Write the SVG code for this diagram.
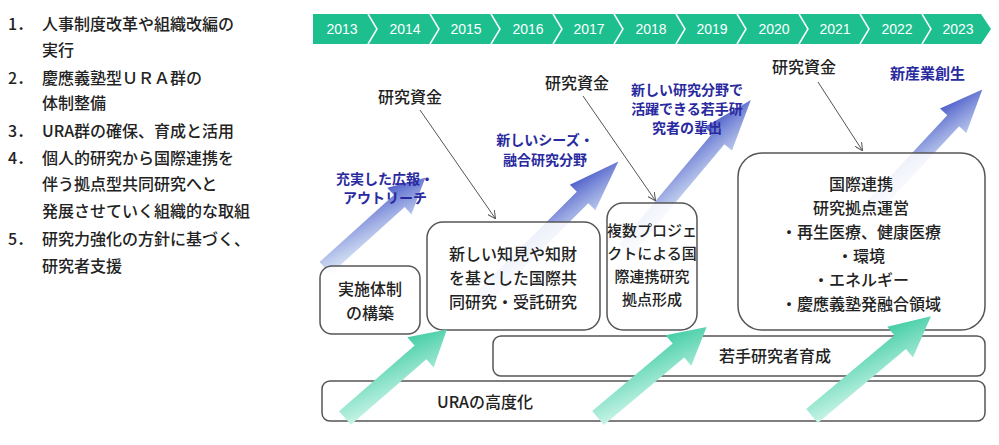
<svg xmlns="http://www.w3.org/2000/svg" width="999" height="445" viewBox="0 0 999 445">
<defs>
<style>
.t{font-family:"Noto Sans CJK JP","Noto Sans",sans-serif;font-size:16px;fill:#222;font-weight:500}
.s{font-size:15px}
.b{font-family:"Noto Sans CJK JP",sans-serif;font-size:14px;fill:#2a2aa0;font-weight:bold}
.bx{fill:#fff;stroke:#555;stroke-width:1.5}
.yr{font-family:"Liberation Sans",sans-serif;font-size:14px;fill:#fff}
.ln{stroke:#555;stroke-width:1;fill:none}
</style>
<linearGradient id="gb" x1="0" y1="1" x2="1" y2="0"><stop offset="0" stop-color="#cfe6f5" stop-opacity="0.5"/><stop offset="1" stop-color="#3040c0"/></linearGradient>
<linearGradient id="gg" x1="0" y1="1" x2="1" y2="0"><stop offset="0" stop-color="#e0fbf3"/><stop offset="1" stop-color="#2ec79a"/></linearGradient>
<marker id="ah" markerWidth="8" markerHeight="8" refX="7" refY="4" orient="auto"><path d="M0,0L8,4L0,8" fill="none" stroke="#555"/></marker>
<path id="ar" d="M0,-9 L100,-9 L100,-20 L135,0 L100,20 L100,9 L0,9Z"/>
</defs>
<rect width="999" height="445" fill="#fff"/>
<g id="legend" class="t">
<text x="8" y="30">1．</text><text x="42" y="30">人事制度改革や組織改編の</text><text x="42" y="56">実行</text>
<text x="8" y="84">2．</text><text x="42" y="84">慶應義塾型ＵＲＡ群の</text><text x="42" y="109">体制整備</text>
<text x="8" y="137">3．</text><text x="42" y="137">URA群の確保、育成と活用</text>
<text x="8" y="164">4．</text><text x="42" y="164">個人的研究から国際連携を</text><text x="42" y="190">伴う拠点型共同研究へと</text><text x="42" y="217">発展させていく組織的な取組</text>
<text x="8" y="245">5．</text><text x="42" y="245">研究力強化の方針に基づく、</text><text x="42" y="272">研究者支援</text>
</g>
<g id="timeline">
<path d="M313,14 L981,14 L991,29 L981,44 L313,44Z" fill="#1dbf8f"/>
<g stroke="#fff" stroke-width="1.5" fill="none">
<path d="M368,14 L377,29 L368,44"/><path d="M430,14 L439,29 L430,44"/><path d="M491,14 L500,29 L491,44"/><path d="M553,14 L562,29 L553,44"/><path d="M614,14 L623,29 L614,44"/><path d="M676,14 L685,29 L676,44"/><path d="M737,14 L746,29 L737,44"/><path d="M799,14 L808,29 L799,44"/><path d="M860,14 L869,29 L860,44"/><path d="M922,14 L931,29 L922,44"/>
</g>
<g class="yr" text-anchor="middle">
<text x="342" y="34">2013</text><text x="405" y="34">2014</text><text x="466" y="34">2015</text><text x="528" y="34">2016</text><text x="589" y="34">2017</text><text x="651" y="34">2018</text><text x="712" y="34">2019</text><text x="774" y="34">2020</text><text x="835" y="34">2021</text><text x="897" y="34">2022</text><text x="958" y="34">2023</text>
</g>
</g>
<g id="blue-arrows" fill="url(#gb)">
<use href="#ar" transform="translate(325,268) rotate(-42) scale(1.0,0.9)"/>
<use href="#ar" transform="translate(480,300) rotate(-45) scale(1.45,0.9)"/>
<use href="#ar" transform="translate(625,250) rotate(-50) scale(1.45,0.9)"/>
<use href="#ar" transform="translate(870,210) rotate(-47) scale(1.22,0.9)"/>
</g>
<g id="boxes">
<g id="n1"><rect class="bx" x="320" y="266" width="100" height="68" rx="12" fill-opacity="0.85"/><text class="t" text-anchor="middle" x="370" y="295">実施体制</text><text class="t" text-anchor="middle" x="370" y="319">の構築</text></g>
<g id="n2"><rect class="bx" x="427" y="222" width="173" height="108" rx="16" fill-opacity="0.85"/><text class="t" text-anchor="middle"><tspan x="513" y="260">新しい知見や知財</tspan><tspan x="513" y="284">を基とした国際共</tspan><tspan x="513" y="308">同研究・受託研究</tspan></text></g>
<g id="n3"><rect class="bx" x="607" y="203" width="90" height="127" rx="16" fill-opacity="0.85"/><text class="t s" text-anchor="middle"><tspan x="652" y="236">複数プロジェ</tspan><tspan x="652" y="259">クトによる国</tspan><tspan x="652" y="282">際連携研究</tspan><tspan x="652" y="305">拠点形成</tspan></text></g>
<g id="n4"><rect class="bx" x="738" y="153" width="247" height="177" rx="24" fill-opacity="0.85"/><text class="t" text-anchor="middle"><tspan x="861" y="190">国際連携</tspan><tspan x="861" y="214">研究拠点運営</tspan><tspan x="861" y="238">・再生医療、健康医療</tspan><tspan x="861" y="262">・環境</tspan><tspan x="861" y="286">・エネルギー</tspan><tspan x="861" y="310">・慶應義塾発融合領域</tspan></text></g>
<g id="n5"><rect class="bx" x="493" y="336" width="492" height="40" rx="8"/><text class="t" text-anchor="middle" x="775" y="362">若手研究者育成</text></g>
<g id="n6"><rect class="bx" x="322" y="381" width="663" height="40" rx="8"/><text class="t" text-anchor="middle" x="485" y="408">URAの高度化</text></g>
</g>
<g id="green-arrows" fill="url(#gg)">
<use href="#ar" transform="translate(345,418) rotate(-41) scale(1.0,1)"/>
<use href="#ar" transform="translate(598,418) rotate(-40) scale(1.05,1)"/>
<use href="#ar" transform="translate(812,416) rotate(-40) scale(1.15,1)"/>
</g>
<g id="connectors">
<path class="ln" d="M420,110 L495,218" marker-end="url(#ah)"/>
<path class="ln" d="M583,96 L655,200" marker-end="url(#ah)"/>
<path class="ln" d="M818,82 L862,150" marker-end="url(#ah)"/>
</g>
<g id="labels">
<text class="t" x="378" y="103">研究資金</text>
<text class="t" x="545" y="89">研究資金</text>
<text class="t" x="772" y="73">研究資金</text>
<text class="b" x="890" y="79" style="font-size:15px">新産業創生</text>
<text class="b" x="385" y="184" text-anchor="middle">充実した広報・</text><text class="b" x="385" y="203" text-anchor="middle">アウトリーチ</text>
<text class="b" x="545" y="145" text-anchor="middle">新しいシーズ・</text><text class="b" x="545" y="165" text-anchor="middle">融合研究分野</text>
<text class="b" x="687" y="95" text-anchor="middle">新しい研究分野で</text><text class="b" x="687" y="114" text-anchor="middle">活躍できる若手研</text><text class="b" x="687" y="133" text-anchor="middle">究者の輩出</text>
</g>
</svg>
